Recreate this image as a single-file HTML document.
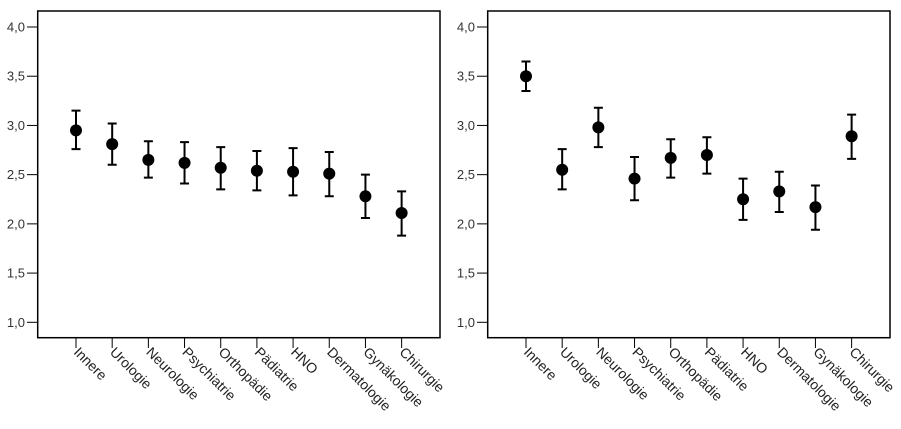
<!DOCTYPE html>
<html><head><meta charset="utf-8"><style>
html,body{margin:0;padding:0;background:#fff;width:901px;height:429px;overflow:hidden}
svg{display:block;font-family:"Liberation Sans",sans-serif}
</style></head><body>
<svg id="c" width="901" height="429"></svg>
<script>
const categories=["Innere","Urologie","Neurologie","Psychiatrie","Orthopädie","Pädiatrie","HNO","Dermatologie","Gynäkologie","Chirurgie"];
const yTicks=[1.0,1.5,2.0,2.5,3.0,3.5,4.0];
const leftMean=[2.95,2.81,2.65,2.62,2.57,2.54,2.53,2.51,2.28,2.11];
const leftLow=[2.76,2.60,2.47,2.41,2.35,2.34,2.29,2.28,2.06,1.88];
const leftHigh=[3.15,3.02,2.84,2.83,2.78,2.74,2.77,2.73,2.50,2.33];
const rightMean=[3.50,2.55,2.98,2.46,2.67,2.70,2.25,2.33,2.17,2.89];
const rightLow=[3.35,2.35,2.78,2.24,2.47,2.51,2.04,2.12,1.94,2.66];
const rightHigh=[3.65,2.76,3.18,2.68,2.86,2.88,2.46,2.53,2.39,3.11];
const NS="http://www.w3.org/2000/svg";
const svg=document.getElementById('c');
function mk(t,a,p){const e=document.createElementNS(NS,t);for(const k in a)e.setAttribute(k,a[k]);(p||svg).appendChild(e);return e;}
function panel(ox,mean,low,high,name){
  const g=mk('g',{});
  
  
  const y=v=>322.3-(v-1)*98.43;
  const x=i=>ox+76+i*36.18;
  const f=mk('rect',{x:ox+37.7,y:11,width:402.3,height:326.7,fill:'none',stroke:'#000','stroke-width':1.5},g);
  
  
  yTicks.forEach(v=>{
    mk('line',{x1:ox+27,x2:ox+37.7,y1:y(v),y2:y(v),stroke:'#000','stroke-width':1},g);
    const t=mk('text',{x:ox+25,y:y(v)+4.5,'text-anchor':'end','font-size':13,fill:'#333'},g);
    t.textContent=v.toFixed(1).replace('.',',');
    
    
  });
  categories.forEach((c,i)=>{
    mk('line',{x1:x(i),x2:x(i),y1:337.7,y2:348,stroke:'#000','stroke-width':1},g);
    const t=mk('text',{x:0,y:0,'font-size':14,fill:'#222',transform:`translate(${x(i)-3},${353}) rotate(45)`},g);
    t.textContent=c;
    
    
    const eb=mk('path',{d:`M${x(i)-4.5},${y(high[i])}H${x(i)+4.5}M${x(i)},${y(high[i])}V${y(low[i])}M${x(i)-4.5},${y(low[i])}H${x(i)+4.5}`,stroke:'#000','stroke-width':2,fill:'none'},g);
    
    
    const d=mk('circle',{cx:x(i),cy:y(mean[i]),r:6,fill:'#000'},g);
    
    
  });
}
panel(0,leftMean,leftLow,leftHigh,'left-panel');
panel(450,rightMean,rightLow,rightHigh,'right-panel');
</script>
</body></html>
